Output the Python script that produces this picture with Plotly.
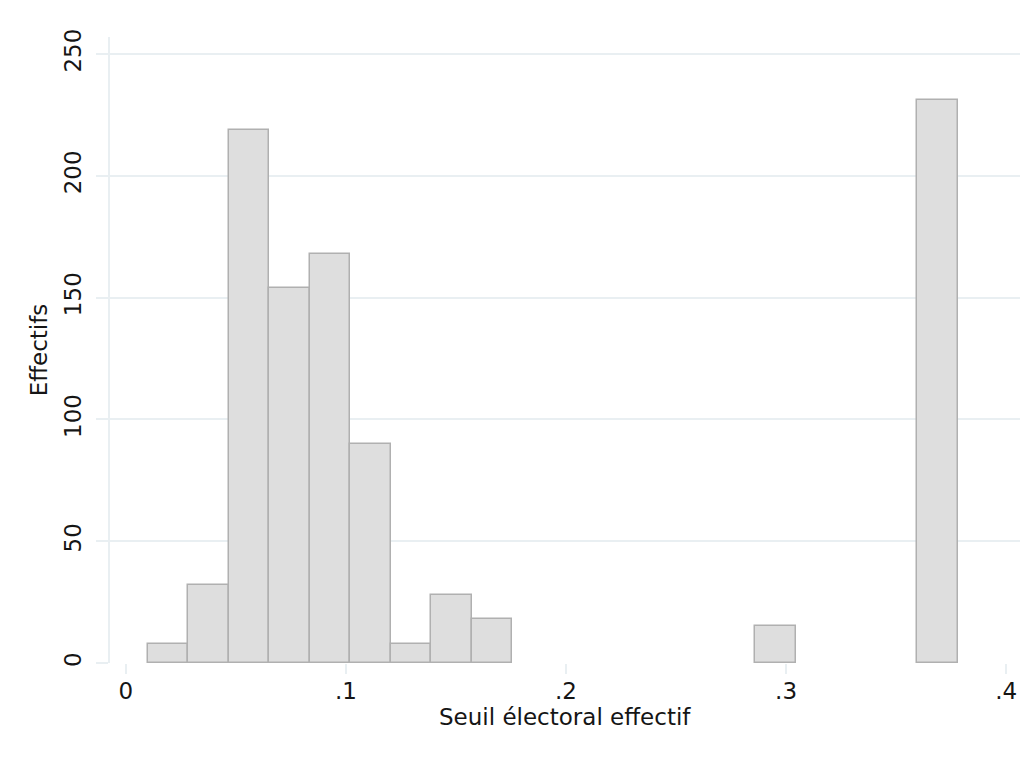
import plotly.graph_objects as go

# Histogram data (Stata-style, 20 bins starting at 0.01)
bin_start = 0.01
bin_width = 0.0184
counts = [8, 32, 219, 154, 168, 90, 8, 28, 18, 0,
          0, 0, 0, 0, 0, 15, 0, 0, 0, 231]

x_ticks = [0, 0.1, 0.2, 0.3, 0.4]
x_tick_labels = ["0", ".1", ".2", ".3", ".4"]
y_ticks = [0, 50, 100, 150, 200, 250]

centers = [bin_start + bin_width * (i + 0.5) for i in range(len(counts))]
heights = [c if c > 0 else None for c in counts]

grid = "#e9eff2"
font = "DejaVu Sans, sans-serif"

fig = go.Figure()
fig.add_trace(go.Bar(
    x=centers, y=heights, width=bin_width,
    marker=dict(color="#dedede", line=dict(color="#b0b0b0", width=1.5)),
    showlegend=False,
))

# page body has an 8px margin, so the figure is a bit smaller than the window
fig.update_layout(
    width=1027, height=749,
    margin=dict(l=102, r=15, t=29, b=94),
    paper_bgcolor="white", plot_bgcolor="white",
    font=dict(family=font, size=23, color="#151515"),
    bargap=0,
)
fig.update_xaxes(
    range=[-0.00716, 0.4063],
    tickvals=x_ticks, ticktext=x_tick_labels,
    showgrid=False, zeroline=False,
    showline=False, automargin=False,
    ticks="outside", ticklen=10, tickcolor=grid, tickwidth=2,
    ticklabelstandoff=-3,
)
fig.update_yaxes(
    range=[0, 257],
    tickvals=y_ticks,
    tickangle=-90,
    showgrid=True, gridcolor=grid, gridwidth=2,
    zeroline=False, automargin=False,
    showline=True, linecolor=grid, linewidth=2,
    ticks="outside", ticklen=12, tickcolor=grid, tickwidth=2,
    ticklabelstandoff=6,
    title=dict(text="Effectifs", font=dict(size=23), standoff=6),
)
fig.add_annotation(
    text="Seuil électoral effectif",
    xref="paper", yref="paper", x=0.5, y=0,
    xanchor="center", yanchor="middle", yshift=-54,
    showarrow=False, font=dict(size=23),
)

fig.write_html("out.html")
